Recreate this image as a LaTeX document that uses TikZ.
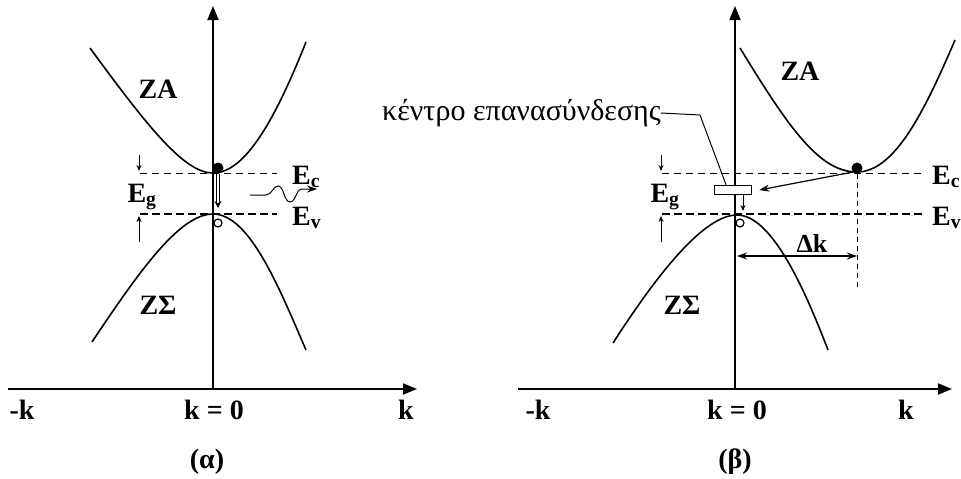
\documentclass[tikz,border=0pt]{standalone}
\usepackage{fontspec}
\setmainfont{Liberation Serif}
\usepackage{tikz}
\usetikzlibrary{arrows.meta,positioning,calc}
\tikzset{
  axis/.style  ={draw=black,line width=1.8pt,-{Triangle[length=14pt,width=11pt]}},
  band/.style  ={draw=black,line width=1.6pt},
  lvlc/.style  ={draw=black,line width=1pt,dash pattern=on 7pt off 5pt},
  lvlv/.style  ={draw=black,line width=1.8pt,dash pattern=on 8pt off 4pt},
  gap/.style   ={draw=black,line width=1pt,-{Stealth[length=6pt,width=5pt]}},
  sig/.style   ={draw=black,line width=1.2pt,-{Stealth[length=10pt,width=7pt]}},
  lbl/.style   ={font=\fontsize{28}{30}\selectfont\bfseries,inner sep=0pt},
  klbl/.style  ={font=\fontsize{28}{30}\selectfont\bfseries,inner sep=0pt},
  elec/.style  ={circle,fill=black,minimum size=11pt,inner sep=0pt},
  hole/.style  ={circle,draw=black,fill=white,line width=1.2pt,minimum size=8pt,inner sep=0pt},
}

\begin{document}
\begin{tikzpicture}[x=1pt,y=1pt]
\useasboundingbox (0,0) rectangle (961,-479);

% (alpha) direct gap
\coordinate (oL) at (213,-389);
\draw[axis] (8,-389) -- (417,-389);
\draw[axis] (oL) -- (213,-6);
\draw[band] (90,-48) .. controls (150,-130) and (185,-173) .. (213,-173)
            .. controls (245,-173) and (275,-120) .. (306,-42);
\draw[band] (92,-342) .. controls (140,-270) and (180,-214) .. (213,-214)
            .. controls (250,-214) and (280,-290) .. (306,-350);
\draw[lvlc] (140,-173) -- (277,-173);
\draw[lvlv] (140,-214) -- (277,-214);
\node[elec] (eL) at (218,-168) {};
\node[hole] (hL) at (218,-223) {};
\coordinate (trL) at (218,-208);
\draw[draw=black,line width=1pt,double,double distance=2.4pt,-{Stealth[length=7pt,width=7pt]}] (eL.south) -- (trL);
\coordinate (phS) at (250,-195);
\coordinate (phE) at (317,-189);
\draw[sig,line width=1pt] (phS) -- (266,-195) .. controls (272,-195) and (273,-186) .. (278,-186)
      .. controls (284,-186) and (284,-202) .. (290,-202) .. controls (296,-202) and (296,-189) .. (302,-189) -- (phE);
\draw[gap] (139,-155) -- (139,-171);
\draw[gap] (139,-242) -- (139,-216);
\node[lbl] (zaL) at (158,-89) {ZA};
\node[lbl] (zsL) at (158,-305) {ZΣ};
\node[lbl,anchor=west] (ecL) at (292,-177) {E\textsubscript{c}};
\node[lbl,anchor=west] (evL) at (292,-218) {E\textsubscript{v}};
\node[lbl] (egL) at (142,-197) {E\textsubscript{g}};
\node[klbl] (mkL) at (22,-410) {-k};
\node[klbl] (k0L) at (214,-410) {k = 0};
\node[klbl] (kL) at (406,-410) {k};
\node[klbl] (capL) at (207,-462) {(α)};

% (beta) indirect gap
\coordinate (oR) at (735,-389);
\draw[axis] (518,-389) -- (952,-389);
\draw[axis] (oR) -- (735,-6);
\draw[band] (740,-48) .. controls (790,-130) and (820,-172) .. (857,-172)
            .. controls (895,-172) and (925,-110) .. (955,-40);
\draw[band] (613,-343) .. controls (660,-270) and (705,-215) .. (737,-215)
            .. controls (772,-215) and (805,-290) .. (828,-350);
\draw[lvlc] (662,-173) -- (923,-173);
\draw[lvlv] (662,-214) -- (923,-214);
\node[elec] (eR) at (857,-168) {};
\node[hole] (hR) at (740,-223) {};
\node[draw=black,fill=white,line width=1.6pt,minimum width=37pt,minimum height=9pt,inner sep=0pt] (rc) at (733,-190) {};
\draw[sig] (eR.south west) -- ([xshift=7pt]rc.east);
\coordinate (rcB) at (743,-211);
\draw[gap] (rc.south -| rcB) -- (rcB);
\node[font=\fontsize{30}{32}\selectfont,inner sep=0pt,anchor=east] (rcl) at (661,-113) {κέντρο επανασύνδεσης};
\draw[draw=black,line width=1pt] (rcl.east) -- (700,-115) -- ([xshift=-7pt]rc.north);
\coordinate (dkS) at (737,-256);
\coordinate (dkE) at (857,-256);
\draw[draw=black,line width=0.9pt,dash pattern=on 5pt off 4pt] (eR.south) -- (857,-290);
\draw[sig,{Stealth[length=10pt,width=7pt]}-{Stealth[length=10pt,width=7pt]}] (dkS) -- (dkE);
\node[lbl,font=\fontsize{26}{28}\selectfont\bfseries] (dk) at (812,-243) {Δk};
\draw[gap] (661,-155) -- (661,-171);
\draw[gap] (661,-242) -- (661,-216);
\node[lbl] (zaR) at (800,-71) {ZA};
\node[lbl] (zsR) at (682,-305) {ZΣ};
\node[lbl,anchor=west] (ecR) at (932,-177) {E\textsubscript{c}};
\node[lbl,anchor=west] (evR) at (932,-218) {E\textsubscript{v}};
\node[lbl] (egR) at (665,-197) {E\textsubscript{g}};
\node[klbl] (mkR) at (538,-410) {-k};
\node[klbl] (k0R) at (737,-410) {k = 0};
\node[klbl] (kR) at (906,-410) {k};
\node[klbl] (capR) at (735,-462) {(β)};
\end{tikzpicture}
\end{document}
